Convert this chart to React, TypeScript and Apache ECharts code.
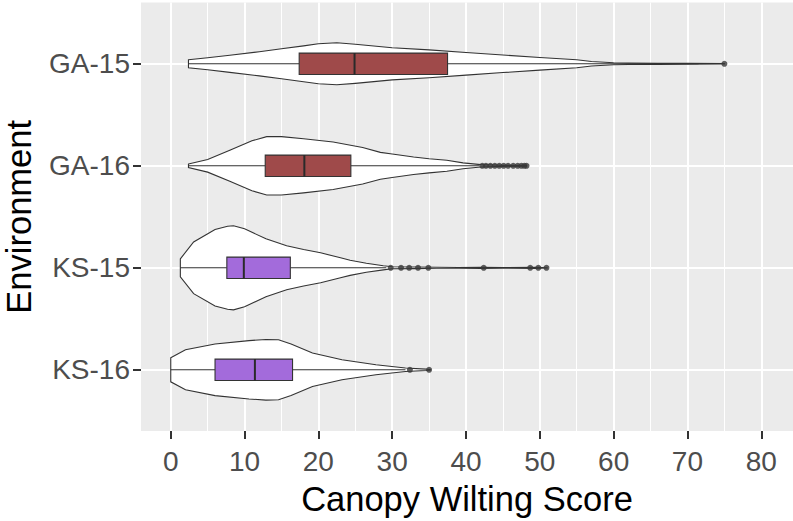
import React, { useEffect, useRef } from 'react';
import * as echarts from 'echarts';

// ---------------- data ----------------
const categories = ['GA-15', 'GA-16', 'KS-15', 'KS-16'];
const xTicks = [0, 10, 20, 30, 40, 50, 60, 70, 80];
const xMinorTicks = [5, 15, 25, 35, 45, 55, 65, 75];
const yTicks = [0, 1, 2, 3];

// box summaries: [lower whisker, Q1, median, Q3, upper whisker]
const boxGA15 = [2.4, 17.4, 24.9, 37.5, 71.5];
const boxGA16 = [2.4, 12.8, 18.1, 24.4, 41.8];
const boxKS15 = [1.3, 7.6, 9.9, 16.2, 29.2];
const boxKS16 = [0.0, 6.0, 11.4, 16.5, 31.8];

// outliers
const outGA15 = [75.0];
const outGA16 = [42.2, 42.7, 43.3, 43.9, 44.5, 45.1, 45.7, 46.4, 47.0, 47.5, 47.9, 48.2];
const outKS15 = [29.8, 31.2, 32.3, 33.5, 34.9, 42.4, 48.7, 49.8, 50.9];
const outKS16 = [32.4, 35.0];

// violin density profiles: [score, half-width in category units]
const violinGA15 = [
  [2.4, 0.039], [5, 0.059], [8, 0.084], [12, 0.118], [15, 0.147], [18, 0.176], [20, 0.196],
  [22.5, 0.206], [25, 0.192], [30, 0.158], [35, 0.137], [40, 0.111], [45, 0.086], [50, 0.062],
  [55, 0.039], [57, 0.022], [60, 0.01], [62, 0.007], [66, 0.006], [70, 0.005], [75, 0.002],
];
const violinGA16 = [
  [2.4, 0.017], [5, 0.062], [8, 0.152], [11, 0.245], [13, 0.286], [15, 0.286], [18, 0.265],
  [22, 0.233], [26, 0.179], [28.4, 0.132], [30, 0.115], [32.9, 0.086], [35, 0.069], [37.4, 0.054],
  [39.6, 0.029], [42, 0.012], [45, 0.006], [48.2, 0.003],
];
const violinKS15 = [
  [1.3, 0.088], [3.1, 0.253], [6, 0.375], [7.7, 0.407], [8.5, 0.412], [10, 0.382], [12.9, 0.284],
  [15.7, 0.216], [18, 0.179], [20.3, 0.147], [23, 0.098], [24.3, 0.074], [26.5, 0.044],
  [28.8, 0.02], [30, 0.01], [33, 0.008], [36, 0.005], [39, 0.003], [42, 0.006], [45, 0.003],
  [49.5, 0.006], [51, 0.001],
];
const violinKS16 = [
  [0, 0.118], [2, 0.196], [6, 0.253], [10.6, 0.286], [12.9, 0.297], [14.6, 0.294], [16.3, 0.253],
  [19.2, 0.164], [23.2, 0.098], [27.8, 0.049], [31.8, 0.017], [34.6, 0.007], [35.2, 0.001],
];

const boxes = [boxGA15, boxGA16, boxKS15, boxKS16];
const outliers = [outGA15, outGA16, outKS15, outKS16];
const violins = [violinGA15, violinGA16, violinKS15, violinKS16];

// ---------------- style ----------------
const FONT = 'Liberation Sans, Arial, sans-serif';
const boxFill = ['#9F4A4A', '#9F4A4A', '#A36BDB', '#A36BDB'];
const BOX_HALF = 0.105;
const X_MIN = -4.03;
const X_MAX = 84.3;

export default function App() {
  const ref = useRef<HTMLDivElement>(null);

  useEffect(() => {
    if (!ref.current) return;
    const chart = echarts.init(ref.current, undefined, { renderer: 'svg' });

    const scatterData: number[][] = [];
    outliers.forEach((arr, i) => arr.forEach((v) => scatterData.push([v, i])));

    const option: any = {
      animation: false,
      backgroundColor: '#ffffff',
      textStyle: { fontFamily: FONT },
      grid: {
        left: 141,
        top: 2.6,
        right: 0,
        bottom: 90,
        show: true,
        backgroundColor: '#EBEBEB',
        borderWidth: 0,
        containLabel: false,
        outerBoundsMode: 'none',
      },
      xAxis: [
        {
          type: 'value',
          min: X_MIN,
          max: X_MAX,
          position: 'bottom',
          axisLine: { show: false, onZero: false },
          axisTick: { show: true, length: 8, lineStyle: { color: '#333333', width: 2 }, customValues: xTicks },
          axisLabel: { customValues: xTicks, margin: 16, color: '#4D4D4D', fontSize: 28, fontFamily: FONT },
          splitLine: { show: true, lineStyle: { color: '#ffffff', width: 2 } },
          name: 'Canopy Wilting Score',
          nameLocation: 'middle',
          nameGap: 50,
          nameTextStyle: { fontSize: 34.5, color: '#000000', fontFamily: FONT },
        },
        {
          type: 'value',
          min: X_MIN,
          max: X_MAX,
          position: 'bottom',
          axisLine: { show: false, onZero: false },
          axisTick: { show: false, customValues: xMinorTicks },
          axisLabel: { show: false, customValues: xMinorTicks },
          splitLine: { show: true, lineStyle: { color: '#ffffff', width: 1 } },
        },
      ],
      yAxis: {
        type: 'value',
        min: -0.6,
        max: 3.6,
        inverse: true,
        axisLine: { show: false, onZero: false },
        axisTick: { show: true, length: 8, lineStyle: { color: '#333333', width: 2 }, customValues: yTicks },
        axisLabel: {
          customValues: yTicks,
          formatter: (v: number) => categories[Math.round(v)] ?? '',
          margin: 11,
          color: '#4D4D4D',
          fontSize: 28,
          fontFamily: FONT,
        },
        splitLine: { show: true, lineStyle: { color: '#ffffff', width: 2 } },
        name: 'Environment',
        nameLocation: 'middle',
        nameRotate: 90,
        nameGap: 105,
        nameTextStyle: { fontSize: 34.5, color: '#000000', fontFamily: FONT },
      },
      series: [
        {
          type: 'custom',
          name: 'violin',
          xAxisIndex: 0,
          clip: false,
          data: categories.map((_, i) => [boxes[i][2], i]),
          encode: { x: 0, y: 1 },
          renderItem: (params: any, api: any) => {
            const idx = api.value(1);
            const prof = violins[idx];
            const upper = prof.map(([v, w]) => api.coord([v, idx - w]));
            const lower = prof.slice().reverse().map(([v, w]) => api.coord([v, idx + w]));
            return {
              type: 'polygon',
              shape: { points: upper.concat(lower) },
              style: { fill: '#ffffff', stroke: '#333333', lineWidth: 1.1 },
            };
          },
          z: 2,
        },
        {
          type: 'custom',
          name: 'box',
          xAxisIndex: 0,
          clip: false,
          data: categories.map((_, i) => [boxes[i][2], i]),
          encode: { x: 0, y: 1 },
          renderItem: (params: any, api: any) => {
            const idx = api.value(1);
            const [lo, q1, med, q3, hi] = boxes[idx];
            const c = (v: number, d: number) => api.coord([v, idx + d]);
            const a = c(q1, -BOX_HALF);
            const b = c(q3, BOX_HALF);
            const l0 = c(lo, 0), l1 = c(q1, 0), r0 = c(q3, 0), r1 = c(hi, 0);
            const m0 = c(med, -BOX_HALF), m1 = c(med, BOX_HALF);
            return {
              type: 'group',
              children: [
                { type: 'line', shape: { x1: l0[0], y1: l0[1], x2: l1[0], y2: l1[1] }, style: { stroke: '#333333', lineWidth: 1.1 } },
                { type: 'line', shape: { x1: r0[0], y1: r0[1], x2: r1[0], y2: r1[1] }, style: { stroke: '#333333', lineWidth: 1.1 } },
                {
                  type: 'rect',
                  shape: { x: a[0], y: Math.min(a[1], b[1]), width: b[0] - a[0], height: Math.abs(b[1] - a[1]) },
                  style: { fill: boxFill[idx], stroke: '#333333', lineWidth: 1.1 },
                },
                { type: 'line', shape: { x1: m0[0], y1: m0[1], x2: m1[0], y2: m1[1] }, style: { stroke: '#2a2a2a', lineWidth: 2 } },
              ],
            };
          },
          z: 3,
        },
        {
          type: 'scatter',
          name: 'outliers',
          xAxisIndex: 0,
          data: scatterData,
          symbol: 'circle',
          symbolSize: 6,
          itemStyle: { color: '#383838', borderWidth: 0 },
          z: 4,
        },
      ],
    };

    chart.setOption(option);
    return () => chart.dispose();
  }, []);

  return (
    <div
      ref={ref}
      style={{ position: 'fixed', left: 0, top: 0, width: 793, height: 521, background: '#fff' }}
    />
  );
}
